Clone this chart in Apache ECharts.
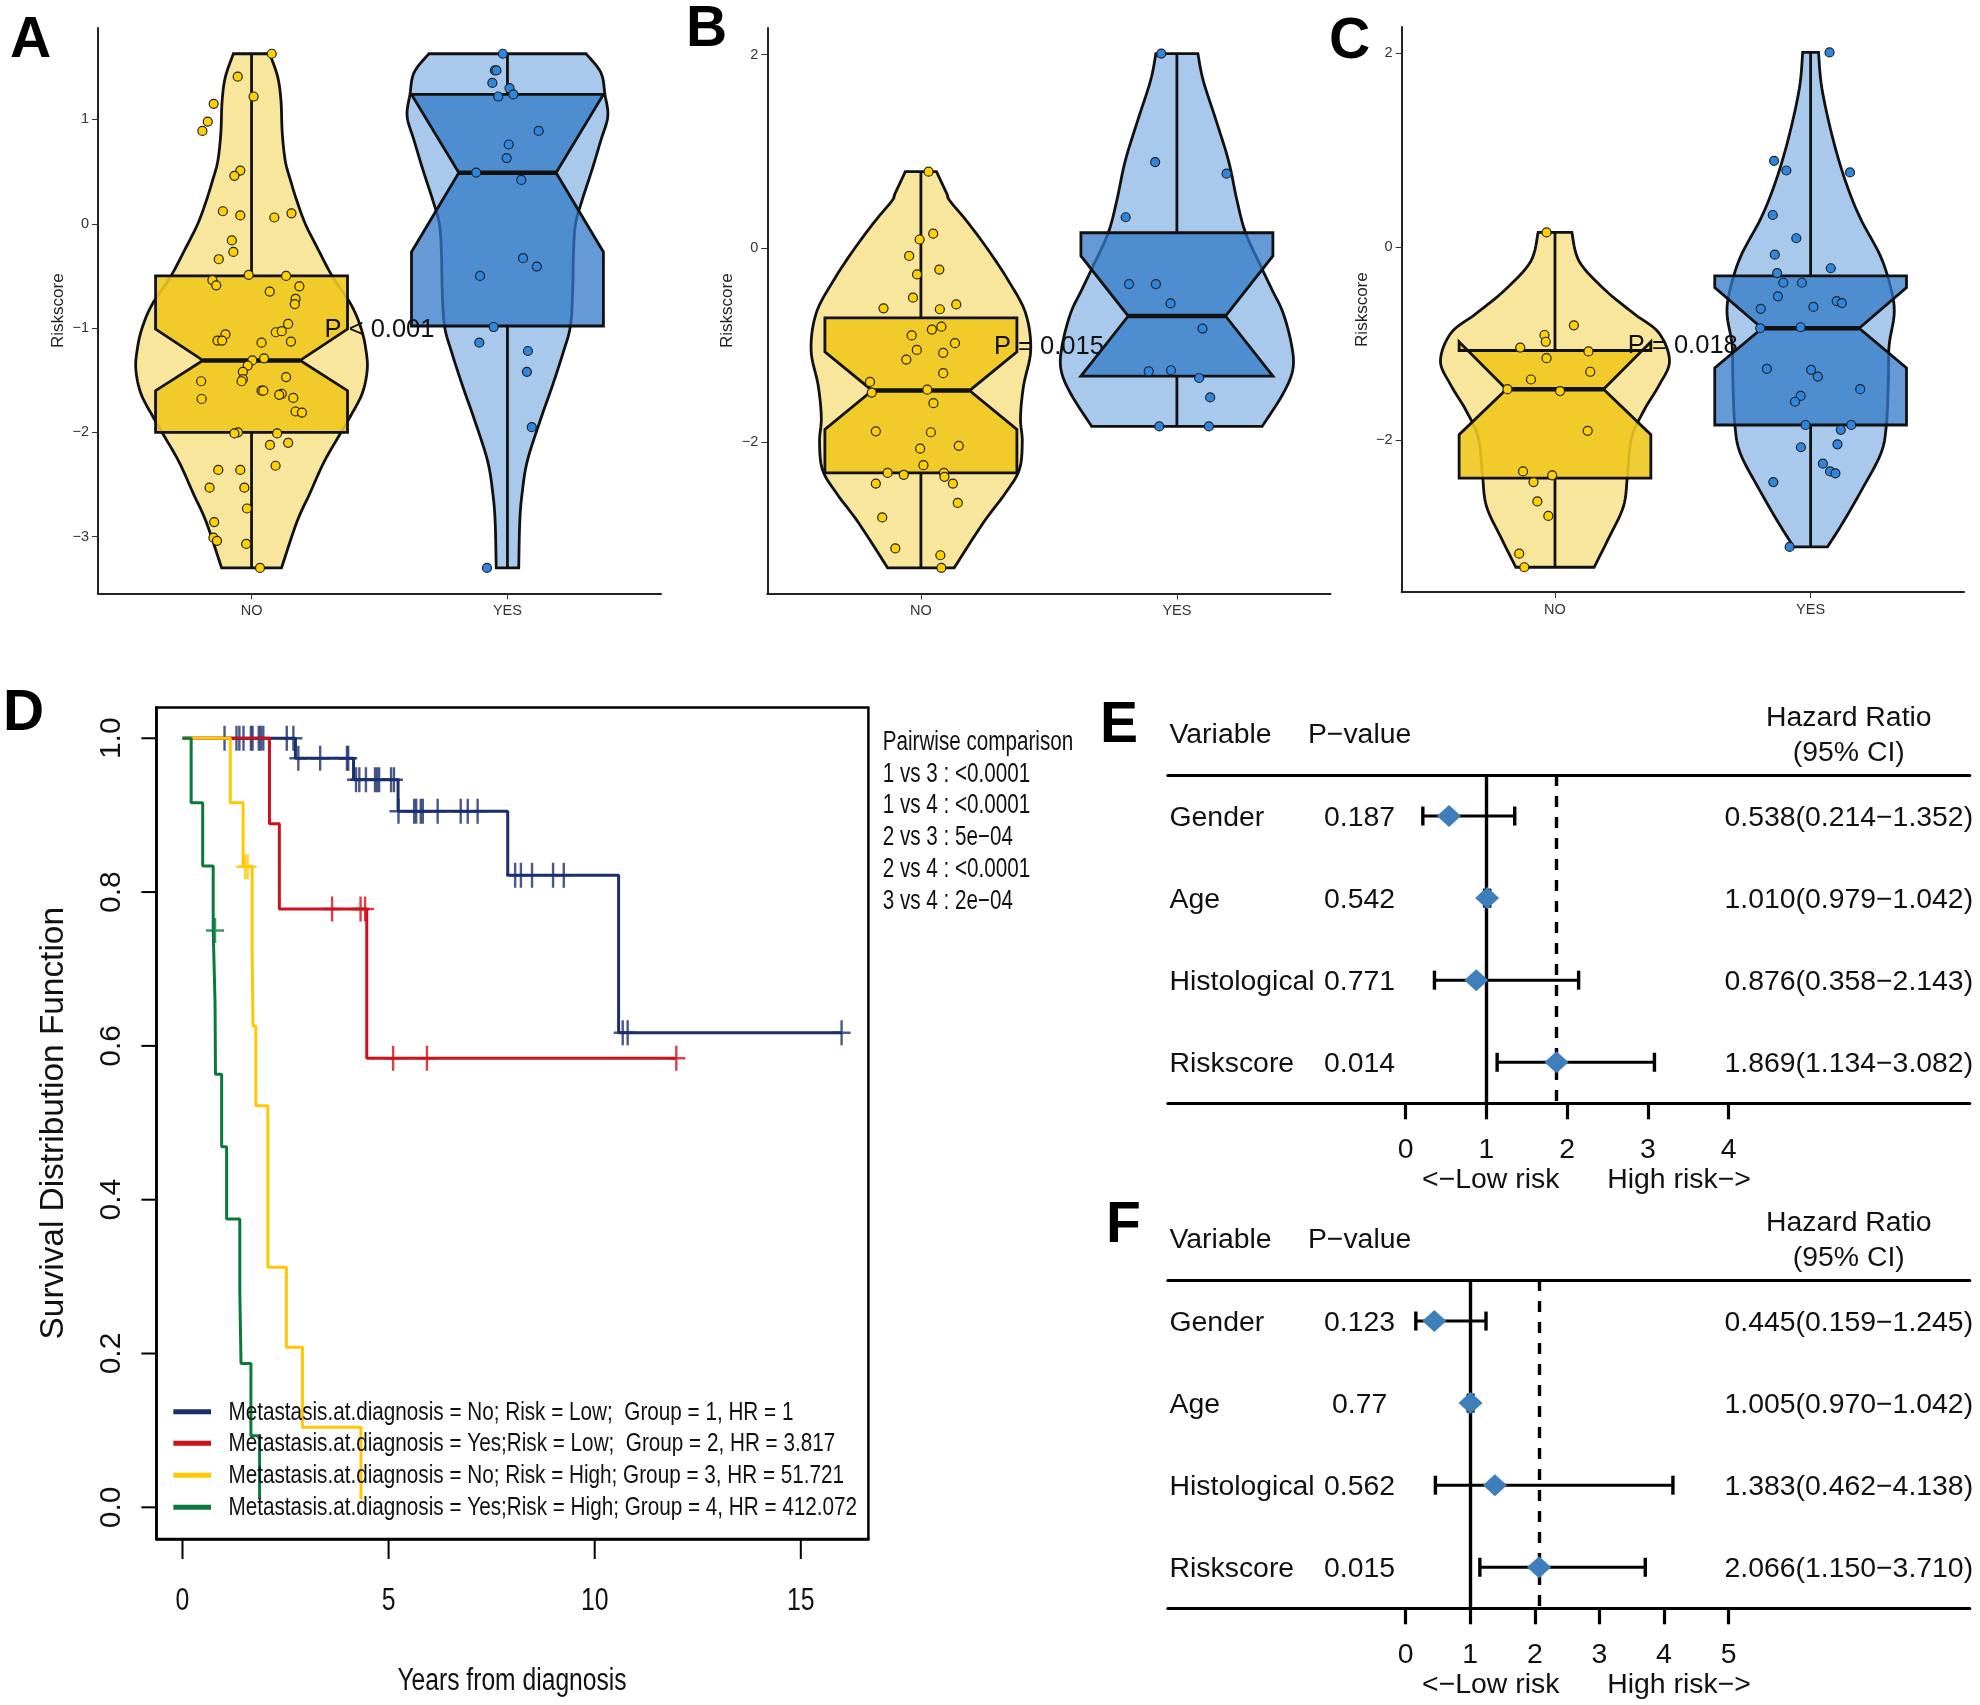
<!DOCTYPE html>
<html>
<head>
<meta charset="utf-8">
<title>Riskscore panels</title>
<style>html,body{margin:0;padding:0;background:#fff}#main{width:1980px;height:1705px}</style>
<script src="https://cdn.jsdelivr.net/npm/echarts@6/dist/echarts.min.js"></script>
</head>
<body>
<div id="main"></div>
<script>
var groups = ['NO', 'YES'];

// violin outlines: [riskscore, half width]
var aNoProfile = [[1.63,.071],[1.41,.102],[1.18,.115],[.87,.12],[.6,.132],[.41,.153],[.22,.177],[0,.21],[-.24,.259],[-.51,.317],[-.78,.39],[-1.01,.429],[-1.21,.447],[-1.4,.452],[-1.63,.432],[-1.86,.383],[-2,.35],[-2.28,.284],[-2.59,.227],[-2.86,.177],[-3.3,.117]];
var aYesProfile = [[1.63,.307],[1.45,.365],[1.24,.381],[1.03,.392],[.8,.365],[.53,.332],[.22,.291],[0,.266],[-.28,.258],[-.63,.255],[-.98,.246],[-1.24,.217],[-1.55,.176],[-1.9,.126],[-2.28,.077],[-2.59,.057],[-2.86,.048],[-3.3,.044]];
var bNoProfile = [[.79,.061],[.57,.1],[.49,.113],[.28,.179],[-.01,.261],[-.34,.343],[-.67,.409],[-1.05,.429],[-1.42,.401],[-1.75,.389],[-2,.396],[-2.29,.384],[-2.54,.327],[-2.83,.245],[-3.3,.13]];
var bYesProfile = [[2.01,.082],[1.73,.103],[1.32,.153],[.9,.202],[.49,.235],[.16,.268],[-.17,.325],[-.42,.37],[-.67,.415],[-1,.448],[-1.25,.453],[-1.5,.415],[-1.84,.333]];
var cNoProfile = [[.15,.066],[-.15,.095],[-.44,.194],[-.69,.309],[-.89,.407],[-1.18,.448],[-1.43,.407],[-1.68,.35],[-1.97,.3],[-2.35,.284],[-2.68,.268],[-3.01,.21],[-3.31,.153]];
var cYesProfile = [[2.01,.031],[1.64,.044],[1.14,.085],[.69,.135],[.31,.192],[-.1,.274],[-.44,.315],[-.69,.327],[-1.02,.307],[-1.39,.304],[-1.85,.296],[-2.14,.274],[-2.51,.2],[-2.85,.126],[-3.1,.066]];

// boxes: [q1, notch low, median, notch high, q3]
var aNoBox = [-2, -1.6, -1.31, -1.01, -.5];
var aYesBox = [-.98, -.27, .49, 1.24, 1.24];
var bNoBox = [-2.32, -1.87, -1.47, -1.07, -.72];
var bYesBox = [-1.32, -1.32, -.7, -.08, .16];
var cNoBox = [-2.39, -1.94, -1.47, -.98, -1.07];
var cYesBox = [-1.84, -1.25, -.84, -.42, -.3];

// jittered points: [offset from group centre, riskscore]
var aNoPoints = [[.079,1.63],[-.054,1.41],[.008,1.22],[-.148,1.15],[-.171,.98],[-.192,.89],[-.044,.51],[-.067,.46],[-.112,.12],[-.044,.08],[.156,.1],[.089,.06],[-.077,-.16],[-.071,-.27],[-.128,-.34],[-.011,-.49],[.135,-.5],[-.153,-.54],[-.138,-.59],[.187,-.6],[.071,-.65],[.172,-.72],[.169,-.77],[.143,-.96],[-.102,-1.06],[.095,-1.04],[.118,-1.03],[-.133,-1.12],[-.115,-1.12],[.039,-1.14],[.154,-1.13],[.049,-1.29],[.003,-1.31],[-.015,-1.36],[-.034,-1.42],[.135,-1.47],[-.034,-1.49],[-.039,-1.51],[-.197,-1.51],[.039,-1.6],[.046,-1.6],[.118,-1.63],[.108,-1.64],[.163,-1.67],[-.195,-1.68],[.172,-1.8],[.197,-1.81],[-.053,-2],[-.067,-2.01],[.1,-2.01],[.072,-2.12],[.143,-2.1],[.094,-2.32],[-.044,-2.36],[-.13,-2.36],[-.164,-2.53],[-.028,-2.53],[-.018,-2.73],[-.146,-2.86],[-.149,-3.01],[-.135,-3.04],[-.021,-3.07],[.033,-3.3]];
var aYesPoints = [[-.018,1.63],[-.049,1.47],[-.043,1.47],[-.059,1.35],[.008,1.3],[-.036,1.22],[.023,1.24],[.122,.89],[.005,.76],[-.003,.63],[-.122,.49],[.054,.42],[.061,-.33],[.115,-.41],[-.107,-.5],[-.054,-.99],[-.11,-1.14],[.08,-1.22],[.076,-1.42],[.095,-1.95],[-.08,-3.3]];
var bNoPoints = [[.03,.79],[.048,.15],[-.005,.09],[-.046,-.08],[.072,-.22],[-.015,-.27],[-.031,-.51],[.138,-.58],[-.146,-.62],[.074,-.63],[.08,-.81],[.043,-.84],[-.036,-.9],[.133,-.98],[-.016,-1.05],[.087,-1.08],[-.057,-1.15],[.087,-1.29],[-.199,-1.38],[.025,-1.46],[-.192,-1.49],[.049,-1.6],[-.176,-1.89],[.039,-1.9],[.148,-2.04],[-.003,-2.07],[.01,-2.24],[-.13,-2.32],[-.067,-2.34],[.09,-2.32],[.092,-2.36],[-.176,-2.43],[.125,-2.43],[.144,-2.63],[-.151,-2.78],[-.1,-3.1],[.076,-3.17],[.08,-3.3]];
var bYesPoints = [[-.061,2.01],[-.085,.89],[.194,.77],[-.2,.32],[-.187,-.37],[-.082,-.37],[-.025,-.57],[.1,-.83],[-.11,-1.27],[-.023,-1.26],[.087,-1.34],[.13,-1.54],[-.069,-1.84],[.125,-1.84]];
var cNoPoints = [[-.033,.15],[.074,-.81],[-.041,-.91],[-.036,-.98],[-.136,-1.04],[.131,-1.08],[-.033,-1.15],[.138,-1.29],[-.094,-1.37],[-.186,-1.47],[.02,-1.49],[.128,-1.9],[-.125,-2.32],[-.011,-2.36],[-.084,-2.43],[-.069,-2.63],[-.026,-2.78],[-.14,-3.17],[-.12,-3.31]];
var cYesPoints = [[.074,2.01],[-.143,.89],[-.095,.79],[.154,.77],[-.148,.33],[-.056,.09],[-.14,-.08],[.079,-.22],[-.131,-.27],[-.107,-.37],[-.034,-.37],[-.128,-.51],[.102,-.56],[.122,-.58],[.011,-.62],[-.195,-.64],[-.197,-.84],[-.039,-.83],[-.171,-1.26],[.002,-1.27],[.028,-1.34],[.194,-1.47],[-.039,-1.54],[-.061,-1.6],[-.02,-1.84],[.159,-1.84],[.118,-1.89],[.105,-2.04],[-.038,-2.07],[.048,-2.24],[.076,-2.32],[.097,-2.34],[-.146,-2.43],[-.082,-3.1]];

var pLabels = ['P < 0.001', 'P = 0.015', 'P = 0.018'];

// survival curves: [years, survival]
var kmNames = [
    'Metastasis.at.diagnosis = No; Risk = Low;  Group = 1, HR = 1',
    'Metastasis.at.diagnosis = Yes;Risk = Low;  Group = 2, HR = 3.817',
    'Metastasis.at.diagnosis = No; Risk = High; Group = 3, HR = 51.721',
    'Metastasis.at.diagnosis = Yes;Risk = High; Group = 4, HR = 412.072'
];
var km1 = [[0,1],[2.74,.974],[4.15,.946],[5.23,.905],[7.89,.822],[10.58,.617],[16,.617]];
var km2 = [[0,1],[2.11,.889],[2.35,.778],[4.47,.584],[11.98,.584]];
var km3 = [[0,1],[1.16,.916],[1.47,.833],[1.69,.729],[1.71,.626],[1.78,.522],[2.07,.312],[2.52,.208],[2.91,.104],[4.33,.01]];
var km4 = [[0,1],[.21,.916],[.49,.834],[.745,.75],[.79,.656],[.8,.563],[.95,.469],[1.07,.375],[1.39,.282],[1.42,.187],[1.66,.093],[1.87,.01]];
var censor1 = [[1.02,1],[1.31,1],[1.38,1],[1.48,1],[1.66,1],[1.7,1],[1.85,1],[1.9,1],[1.96,1],[2.53,1],[2.69,1],[2.81,.974],[3.34,.974],[3.99,.974],[4.02,.974],[4.21,.946],[4.29,.946],[4.45,.946],[4.67,.946],[4.72,.946],[4.77,.946],[5.06,.946],[5.13,.946],[5.24,.905],[5.62,.905],[5.67,.905],[5.78,.905],[5.83,.905],[6.19,.905],[6.75,.905],[6.92,.905],[7.16,.905],[8.07,.822],[8.21,.822],[8.48,.822],[8.99,.822],[9.25,.822],[10.68,.617],[10.8,.617],[15.99,.617]];
var censor2 = [[3.63,.778],[4.32,.778],[4.43,.778],[5.11,.584],[5.93,.584],[11.98,.584]];
var censor3 = [[1.52,.833],[1.58,.833]];
var censor4 = [[.79,.75]];
var kmXTicks = [0, 5, 10, 15];
var kmYTicks = [0, .2, .4, .6, .8, 1];
var pairwise = ['Pairwise comparison', '1 vs 3 : <0.0001', '1 vs 4 : <0.0001', '2 vs 3 : 5e\u221204', '2 vs 4 : <0.0001', '3 vs 4 : 2e\u221204'];

// forest plots
var variables = ['Gender', 'Age', 'Histological', 'Riskscore'];
var ePValues = ['0.187', '0.542', '0.771', '0.014'];
var eHr = [.538, 1.01, .876, 1.869];
var eLow = [.214, .979, .358, 1.134];
var eHigh = [1.352, 1.042, 2.143, 3.082];
var fPValues = ['0.123', '0.77', '0.562', '0.015'];
var fHr = [.445, 1.005, 1.383, 2.066];
var fLow = [.159, .97, .462, 1.15];
var fHigh = [1.245, 1.042, 4.138, 3.71];

var SANS = '"Liberation Sans", Arial, sans-serif';
var INK = '#111';
var YELLOW = {violin: '#f7e69c', box: 'rgba(238,200,30,.9)', dot: '#ffd000'};
var BLUE = {violin: '#a9c9ec', box: 'rgba(50,120,200,.75)', dot: '#2e86de'};
var KM_COLORS = ['#1a2e6b', '#d0101c', '#ffc800', '#0a7a3c'];
var BOX_HALF = .375, NOTCH_HALF = .19;
var FOREST_FONT = 28.4;
var KM_X_MIN = -.633, KM_Y_MIN = -.0412;

// catmull-rom through the read outline, pixels only
function spline(pts) {
    var out = [];
    for (var i = 0; i < pts.length - 1; i++) {
        var p0 = pts[Math.max(i - 1, 0)], p1 = pts[i], p2 = pts[i + 1], p3 = pts[Math.min(i + 2, pts.length - 1)];
        for (var k = 0; k < 8; k++) {
            var t = k / 8, t2 = t * t, t3 = t2 * t;
            out.push([
                .5 * (2 * p1[0] + (p2[0] - p0[0]) * t + (2 * p0[0] - 5 * p1[0] + 4 * p2[0] - p3[0]) * t2 + (3 * p1[0] - p0[0] - 3 * p2[0] + p3[0]) * t3),
                .5 * (2 * p1[1] + (p2[1] - p0[1]) * t + (2 * p0[1] - 5 * p1[1] + 4 * p2[1] - p3[1]) * t2 + (3 * p1[1] - p0[1] - 3 * p2[1] + p3[1]) * t3)
            ]);
        }
    }
    out.push(pts[pts.length - 1]);
    return out;
}

function violinSeries(idx, center, profile, box, points, colors) {
    var custom = {
        type: 'custom', xAxisIndex: idx, yAxisIndex: idx, silent: true, z: 2,
        data: [[center, box[2]]],
        renderItem: function (params, api) {
            var left = spline(profile.map(function (d) { return api.coord([center - d[1], d[0]]); }));
            var right = spline(profile.map(function (d) { return api.coord([center + d[1], d[0]]); }));
            var outline = left.concat(right.reverse());
            var xy = function (x, y) { return api.coord([center + x, y]); };
            var boxPts = [xy(-BOX_HALF, box[0]), xy(-BOX_HALF, box[1]), xy(-NOTCH_HALF, box[2]), xy(-BOX_HALF, box[3]), xy(-BOX_HALF, box[4]),
                xy(BOX_HALF, box[4]), xy(BOX_HALF, box[3]), xy(NOTCH_HALF, box[2]), xy(BOX_HALF, box[1]), xy(BOX_HALF, box[0])];
            var seg = function (a, b, w) {
                return {type: 'line', shape: {x1: a[0], y1: a[1], x2: b[0], y2: b[1]}, style: {stroke: INK, lineWidth: w}};
            };
            return {type: 'group', children: [
                {type: 'polygon', shape: {points: outline}, style: {fill: colors.violin, stroke: INK, lineWidth: 2.8}},
                seg(xy(0, profile[0][0]), xy(0, box[4]), 2.8),
                seg(xy(0, box[0]), xy(0, profile[profile.length - 1][0]), 2.8),
                {type: 'polygon', shape: {points: boxPts}, style: {fill: colors.box, stroke: INK, lineWidth: 2.8}},
                seg(xy(-NOTCH_HALF, box[2]), xy(NOTCH_HALF, box[2]), 4.5)
            ]};
        }
    };
    var dots = {
        type: 'scatter', xAxisIndex: idx, yAxisIndex: idx, silent: true, z: 4,
        symbolSize: 9,
        itemStyle: {color: colors.dot, borderColor: '#222', borderWidth: 1.2, opacity: 1},
        data: points.map(function (d) { return [center + d[0], d[1]]; })
    };
    return [custom, dots];
}

function pTextSeries(idx, text) {
    return {
        type: 'custom', xAxisIndex: idx, yAxisIndex: idx, silent: true, z: 6,
        data: [[1.5, -1]],
        renderItem: function (params, api) {
            var p = api.coord([api.value(0), api.value(1)]);
            return {type: 'text', x: p[0], y: p[1] + 2, style: {text: text, fontSize: 25.5, fontFamily: SANS, fill: INK, textAlign: 'center', textVerticalAlign: 'middle'}};
        }
    };
}

function violinAxes(idx, yMin, yMax, yTicks) {
    return {
        x: {
            type: 'value', gridIndex: idx, min: .4, max: 2.6, splitLine: {show: false},
            axisLine: {show: true, onZero: false, lineStyle: {color: '#222', width: 2}},
            axisTick: {show: true, customValues: [1, 2], length: 6, lineStyle: {color: '#333', width: 1}},
            axisLabel: {customValues: [1, 2], margin: 10, fontSize: 14.5, fontFamily: SANS, color: '#333', formatter: function (v) { return groups[v - 1]; }}
        },
        y: {
            type: 'value', gridIndex: idx, min: yMin, max: yMax, splitLine: {show: false},
            name: 'Riskscore', nameLocation: 'middle', nameGap: 31, nameTextStyle: {fontSize: 17, fontFamily: SANS, color: '#222'},
            axisLine: {show: true, onZero: false, lineStyle: {color: '#222', width: 2}},
            axisTick: {show: true, customValues: yTicks, length: 6, lineStyle: {color: '#333', width: 1}},
            axisLabel: {customValues: yTicks, margin: 9, fontSize: 14.5, fontFamily: SANS, color: '#333', padding: [2, 0, 0, 0], formatter: function (v) { return String(v).replace('-', '\u2212'); }}
        }
    };
}

var PLUS = 'path://M7.8,0H10.2V11.3H18V13.7H10.2V25H7.8V13.7H0V11.3H7.8Z';

function kmSeries(i, curve, marks) {
    return [{
        name: kmNames[i], type: 'line', step: 'end', xAxisIndex: 3, yAxisIndex: 3, silent: true, z: 3 + i,
        showSymbol: false, data: curve,
        lineStyle: {color: KM_COLORS[i], width: 3}, itemStyle: {color: KM_COLORS[i]}
    }, {
        type: 'scatter', xAxisIndex: 3, yAxisIndex: 3, silent: true, z: 3 + i,
        symbol: PLUS, symbolSize: [18, 25], itemStyle: {color: KM_COLORS[i]}, data: marks
    }];
}

function tickLine(x1, y1, x2, y2) {
    return {type: 'line', shape: {x1: x1, y1: y1, x2: x2, y2: y2}, style: {stroke: '#000', lineWidth: 2}};
}

// the x labels of panel D are condensed, so they go through text elements, ticks with them
var kmXTickSeries = {
    type: 'custom', xAxisIndex: 3, yAxisIndex: 3, silent: true, clip: false, z: 8,
    data: kmXTicks.map(function (v) { return [v, KM_Y_MIN]; }),
    renderItem: function (params, api) {
        var p = api.coord([api.value(0), api.value(1)]);
        return {type: 'group', children: [
            tickLine(p[0], p[1], p[0], p[1] + 20),
            {type: 'text', x: p[0], y: p[1] + 62, scaleX: .8, style: {text: String(api.value(0)), fontSize: 31, fontFamily: SANS, fill: INK, textAlign: 'center', textVerticalAlign: 'middle'}}
        ]};
    }
};
var kmYTickSeries = {
    type: 'custom', xAxisIndex: 3, yAxisIndex: 3, silent: true, clip: false, z: 8,
    data: kmYTicks.map(function (v) { return [KM_X_MIN, v]; }),
    renderItem: function (params, api) {
        var p = api.coord([api.value(0), api.value(1)]);
        return tickLine(p[0], p[1], p[0] - 15, p[1]);
    }
};

function forestAxes(idx, xMin, xMax, ticks) {
    return {
        x: {
            type: 'value', gridIndex: idx, min: xMin, max: xMax, splitLine: {show: false},
            axisLine: {show: true, onZero: false, lineStyle: {color: '#000', width: 3}},
            axisTick: {show: true, customValues: ticks, length: 16, lineStyle: {color: '#000', width: 3.2}},
            axisLabel: {customValues: ticks, margin: 33, fontSize: FOREST_FONT, fontFamily: SANS, color: INK}
        },
        top: {
            type: 'value', gridIndex: idx, position: 'top', min: xMin, max: xMax, splitLine: {show: false},
            axisLine: {show: true, onZero: false, lineStyle: {color: '#000', width: 3}},
            axisTick: {show: false}, axisLabel: {show: false}
        },
        y: {
            type: 'category', gridIndex: idx, inverse: true, data: variables,
            axisLine: {show: false}, axisTick: {show: false}, axisLabel: {show: false}
        }
    };
}

function forestSeries(idx, pValues, hr, low, high) {
    var rows = {
        type: 'custom', xAxisIndex: idx, yAxisIndex: idx, silent: true, z: 3,
        data: variables.map(function (v, i) { return [low[i], high[i], i]; }),
        renderItem: function (params, api) {
            var i = params.dataIndex;
            var a = api.coord([api.value(0), api.value(2)]);
            var b = api.coord([api.value(1), api.value(2)]);
            var seg = function (x1, y1, x2, y2, w) {
                return {type: 'line', shape: {x1: x1, y1: y1, x2: x2, y2: y2}, style: {stroke: '#000', lineWidth: w}};
            };
            var txt = function (x, text, align) {
                return {type: 'text', x: x, y: a[1] + 2, style: {text: text, fontSize: FOREST_FONT, fontFamily: SANS, fill: INK, textAlign: align, textVerticalAlign: 'middle'}};
            };
            var hrText = hr[i].toFixed(3) + '(' + low[i].toFixed(3) + '\u2212' + high[i].toFixed(3) + ')';
            return {type: 'group', children: [
                seg(a[0], a[1], b[0], b[1], 3),
                seg(a[0], a[1] - 9.5, a[0], a[1] + 9.5, 3.4),
                seg(b[0], b[1] - 9.5, b[0], b[1] + 9.5, 3.4),
                txt(1169.5, variables[i], 'left'),
                txt(1359.6, pValues[i], 'center'),
                txt(1848.8, hrText, 'center')
            ]};
        }
    };
    var diamonds = {
        type: 'scatter', xAxisIndex: idx, yAxisIndex: idx, silent: true, z: 6,
        symbol: 'diamond', symbolSize: [24, 22], itemStyle: {color: '#3d7ebb', opacity: 1},
        data: hr.map(function (v, i) { return [v, i]; }),
        markLine: {
            silent: true, symbol: 'none', label: {show: false}, z: 2,
            data: [
                {xAxis: 1, lineStyle: {color: '#000', width: 3.4, type: 'solid'}},
                {xAxis: hr[3], lineStyle: {color: '#000', width: 3.4, type: [11, 10]}}
            ]
        }
    };
    return [rows, diamonds];
}

function label(x, y, text, size, align, weight, scaleX) {
    return {type: 'text', x: x, y: y, scaleX: scaleX || 1, silent: true, z: 20, style: {
        text: text, fontSize: size, fontFamily: SANS, fontWeight: weight || 'normal', fill: weight ? '#000' : INK,
        textAlign: align || 'left', textVerticalAlign: 'middle'
    }};
}

var axA = violinAxes(0, -3.544, 1.877, [-3, -2, -1, 0, 1]);
var axB = violinAxes(1, -3.564, 2.274, [-2, 0, 2]);
var axC = violinAxes(2, -3.568, 2.273, [-2, 0, 2]);
var axE = forestAxes(4, -2.944, 6.987, [0, 1, 2, 3, 4]);
var axF = forestAxes(5, -3.68, 8.733, [0, 1, 2, 3, 4, 5]);

var axD = {
    x: {
        type: 'value', gridIndex: 3, min: KM_X_MIN, max: 16.64, splitLine: {show: false},
        axisLine: {show: true, onZero: false, lineStyle: {color: '#000', width: 2.5}},
        axisTick: {show: false},
        axisLabel: {show: false}
    },
    y: {
        type: 'value', gridIndex: 3, min: KM_Y_MIN, max: 1.04, splitLine: {show: false},
        name: 'Survival Distribution Function', nameLocation: 'middle', nameGap: 86, nameTextStyle: {fontSize: 33.4, fontFamily: SANS, color: INK},
        axisLine: {show: true, onZero: false, lineStyle: {color: '#000', width: 2.5}},
        axisTick: {show: false},
        axisLabel: {customValues: kmYTicks, rotate: 90, margin: 30, fontSize: 30, fontFamily: SANS, color: INK, formatter: function (v) { return v.toFixed(1); }}
    }
};

var graphics = [
    label(10, 41, 'A', 57, 'left', 'bold'),
    label(686, 30, 'B', 57, 'left', 'bold'),
    label(1329, 42, 'C', 57, 'left', 'bold'),
    label(3, 714, 'D', 57, 'left', 'bold'),
    label(1100, 726, 'E', 57, 'left', 'bold'),
    label(1106, 1226, 'F', 57, 'left', 'bold')
];
var pairwiseY = [742.7, 774.3, 806, 838, 869.7, 902];
pairwise.forEach(function (t, i) { graphics.push(label(882.7, pairwiseY[i], t, 27, 'left', null, .765)); });
var legendY = [1411.7, 1443.3, 1475.3, 1507.3];
kmNames.forEach(function (t, i) {
    graphics.push({type: 'rect', silent: true, z: 19, shape: {x: 173.4, y: legendY[i] - 2.5, width: 37.6, height: 5}, style: {fill: KM_COLORS[i]}});
    graphics.push(label(228.5, legendY[i] + 1, t, 25, 'left', null, .828));
});
graphics.push(label(512, 1681, 'Years from diagnosis', 31, 'center', null, .795));
[0, 505].forEach(function (dy) {
    graphics.push(label(1169.5, 735 + dy, 'Variable', FOREST_FONT));
    graphics.push(label(1359.6, 735 + dy, 'P\u2212value', FOREST_FONT, 'center'));
    graphics.push(label(1848.8, 717.7 + dy, 'Hazard Ratio', FOREST_FONT, 'center'));
    graphics.push(label(1848.8, 753.3 + dy, '(95% CI)', FOREST_FONT, 'center'));
    graphics.push(label(1490.7, 1180 + dy, '<\u2212Low risk', FOREST_FONT, 'center'));
    graphics.push(label(1679, 1180 + dy, 'High risk\u2212>', FOREST_FONT, 'center'));
});

var option = {
    animation: false,
    backgroundColor: '#fff',
    textStyle: {fontFamily: SANS},
    grid: [
        {left: 98, top: 28, width: 563, height: 565.4},
        {left: 767.3, top: 28, width: 563.2, height: 565.4},
        {left: 1401.6, top: 27, width: 562.4, height: 565.2},
        {left: 156.4, top: 707.5, width: 712, height: 831.5, show: true, borderColor: '#000', borderWidth: 2.5, backgroundColor: 'transparent'},
        {left: 1167.8, top: 775, width: 802, height: 328.3},
        {left: 1167.8, top: 1280, width: 802, height: 328.3}
    ],
    xAxis: [axA.x, axB.x, axC.x, axD.x, axE.x, axF.x, axE.top, axF.top],
    yAxis: [axA.y, axB.y, axC.y, axD.y, axE.y, axF.y],
    graphic: graphics,
    series: [].concat(
        violinSeries(0, 1, aNoProfile, aNoBox, aNoPoints, YELLOW),
        violinSeries(0, 2, aYesProfile, aYesBox, aYesPoints, BLUE),
        violinSeries(1, 1, bNoProfile, bNoBox, bNoPoints, YELLOW),
        violinSeries(1, 2, bYesProfile, bYesBox, bYesPoints, BLUE),
        violinSeries(2, 1, cNoProfile, cNoBox, cNoPoints, YELLOW),
        violinSeries(2, 2, cYesProfile, cYesBox, cYesPoints, BLUE),
        pTextSeries(0, pLabels[0]), pTextSeries(1, pLabels[1]), pTextSeries(2, pLabels[2]),
        kmSeries(0, km1, censor1), kmSeries(1, km2, censor2), kmSeries(2, km3, censor3), kmSeries(3, km4, censor4),
        [kmXTickSeries, kmYTickSeries],
        forestSeries(4, ePValues, eHr, eLow, eHigh),
        forestSeries(5, fPValues, fHr, fLow, fHigh)
    )
};

var chart = echarts.init(document.getElementById('main'));
chart.setOption(option);
</script>
</body>
</html>
